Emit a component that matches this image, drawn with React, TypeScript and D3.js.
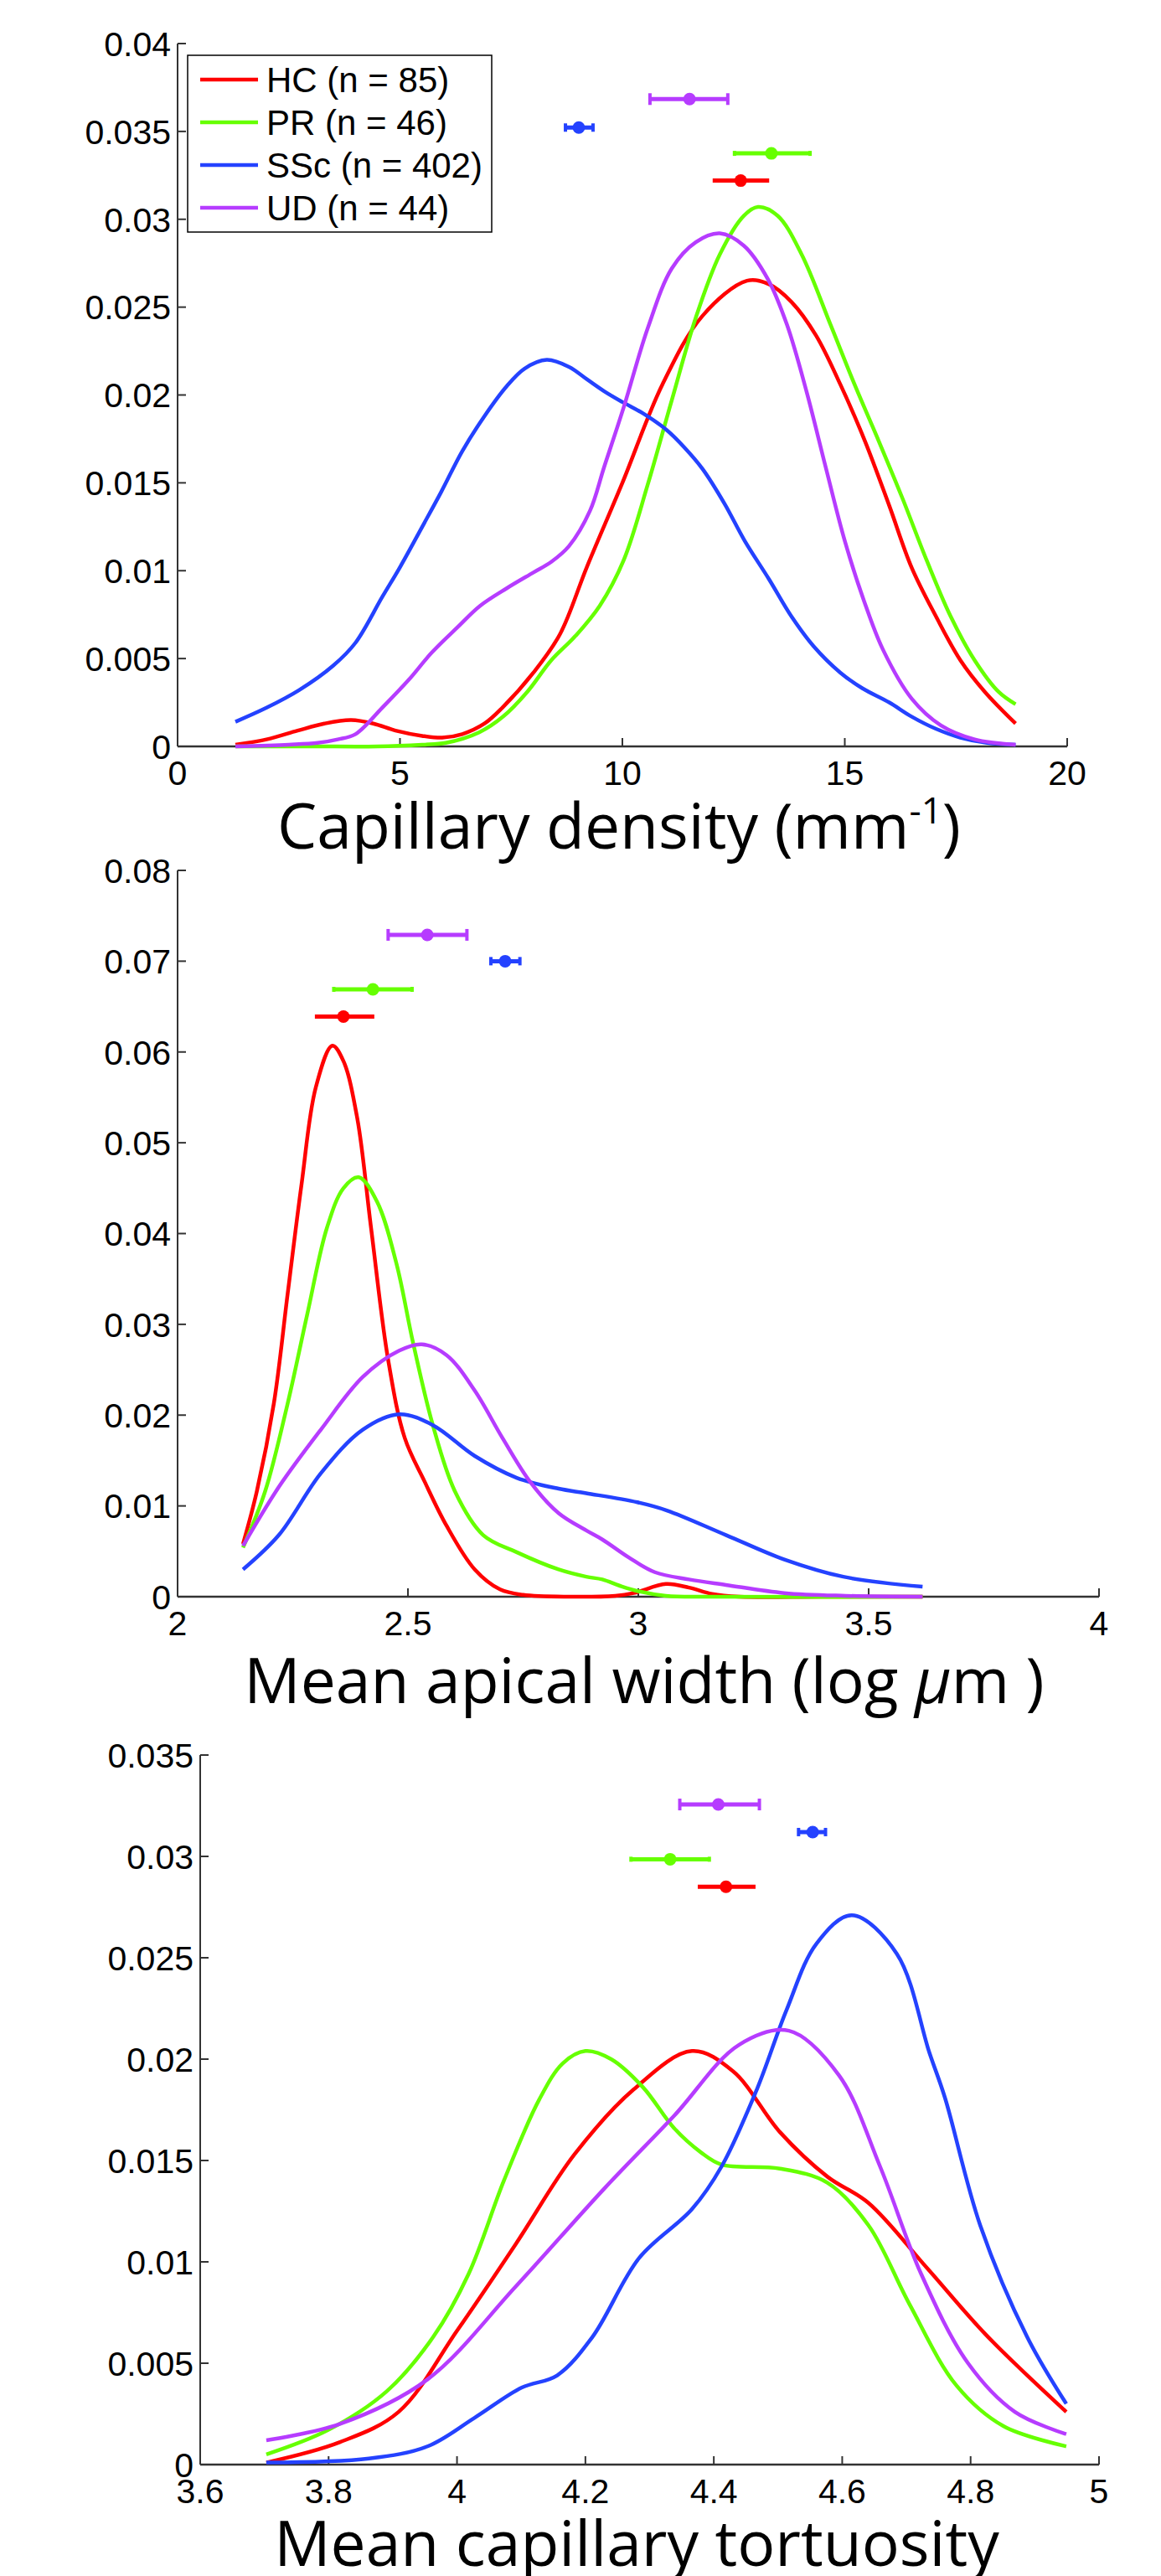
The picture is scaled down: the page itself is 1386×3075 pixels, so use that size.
import React from 'react';
import * as d3 from 'd3';

// groups, in legend order
const groups = ['HC', 'PR', 'SSc', 'UD'];
const groupN = [85, 46, 402, 44];
const colors = ['#ff0000', '#66ff00', '#2442ff', '#b63cff'];
const capHeights = [0, 6, 10, 14];

// panel 1 : capillary density
const densityHC = [[1.3, 0.0001], [2.0, 0.0004], [2.7, 0.0009], [3.3, 0.0013], [3.9, 0.0015], [4.4, 0.0013], [4.9, 0.0009], [5.5, 0.0006], [5.95, 0.0005], [6.4, 0.0007], [6.9, 0.0013], [7.3, 0.0022], [8.0, 0.0042], [8.6, 0.0064], [9.2, 0.0102], [10.0, 0.015], [10.9, 0.0206], [11.8, 0.0245], [12.8, 0.0265], [13.3, 0.0263], [13.8, 0.0253], [14.35, 0.0234], [14.9, 0.0206], [15.45, 0.0174], [16.0, 0.0137], [16.5, 0.0102], [17.05, 0.0074], [17.6, 0.0049], [18.15, 0.0031], [18.84, 0.0013]];
const densityPR = [[1.3, 0], [3.0, 0], [4.5, 0], [5.5, 0.0001], [6.03, 0.0002], [6.78, 0.0008], [7.32, 0.0017], [7.86, 0.0031], [8.4, 0.0049], [8.95, 0.0063], [9.49, 0.008], [10.03, 0.0106], [10.57, 0.0149], [11.11, 0.0197], [11.65, 0.0244], [12.19, 0.028], [12.73, 0.0302], [13.05, 0.0307], [13.49, 0.0302], [14.03, 0.028], [14.68, 0.024], [15.22, 0.0206], [15.76, 0.0174], [16.3, 0.0141], [16.84, 0.0106], [17.38, 0.0074], [17.92, 0.0049], [18.46, 0.0031], [18.84, 0.0024]];
const densitySSc = [[1.3, 0.0014], [2.0, 0.0022], [2.73, 0.0032], [3.5, 0.0046], [4.0, 0.0059], [4.6, 0.0085], [5.0, 0.0102], [5.5, 0.0125], [5.93, 0.0145], [6.4, 0.0168], [6.9, 0.0188], [7.4, 0.0205], [7.8, 0.0215], [8.3, 0.022], [8.8, 0.0216], [9.2, 0.0209], [9.6, 0.0202], [10.0, 0.0196], [10.5, 0.0189], [11.0, 0.018], [11.4, 0.017], [11.8, 0.0158], [12.3, 0.0138], [12.75, 0.0117], [13.3, 0.0095], [13.8, 0.0074], [14.3, 0.0057], [14.9, 0.0042], [15.4, 0.0033], [16.0, 0.0025], [16.5, 0.0017], [17.05, 0.001], [17.6, 0.0005], [18.2, 0.0002], [18.84, 0.0001]];
const densityUD = [[1.3, 0], [2.5, 0.0001], [3.15, 0.0002], [3.6, 0.0004], [4.0, 0.0007], [4.6, 0.0022], [5.2, 0.0038], [5.7, 0.0053], [6.3, 0.0068], [6.8, 0.008], [7.4, 0.009], [8.0, 0.0099], [8.4, 0.0105], [8.8, 0.0114], [9.27, 0.0134], [9.59, 0.0159], [10.03, 0.0193], [10.57, 0.0238], [11.11, 0.0272], [11.65, 0.0287], [12.19, 0.0292], [12.73, 0.0285], [13.27, 0.0266], [13.7, 0.024], [14.14, 0.0202], [14.57, 0.0159], [15.0, 0.0117], [15.43, 0.0083], [15.86, 0.0055], [16.51, 0.0027], [17.16, 0.0012], [17.92, 0.0004], [18.84, 0.0001]];
const densityMean = [12.66, 13.35, 9.02, 11.51];
const densityLo = [12.03, 12.52, 8.72, 10.62];
const densityHi = [13.3, 14.22, 9.34, 12.37];
const densityBarY = [0.0322, 0.03375, 0.03522, 0.03684];
const densityXTicks = [0, 5, 10, 15, 20];
const densityYTicks = [0, 0.005, 0.01, 0.015, 0.02, 0.025, 0.03, 0.035, 0.04];

// panel 2 : mean apical width
const widthHC = [[2.142, 0.0058], [2.172, 0.0116], [2.209, 0.0213], [2.239, 0.0334], [2.269, 0.0454], [2.3, 0.0561], [2.336, 0.0607], [2.36, 0.059], [2.39, 0.0527], [2.42, 0.0406], [2.457, 0.0261], [2.493, 0.0175], [2.536, 0.0127], [2.584, 0.0078], [2.645, 0.003], [2.7, 0.0008], [2.75, 0.0002], [2.85, 0], [2.95, 0.0001], [2.99, 0.0004], [3.06, 0.0014], [3.11, 0.001], [3.16, 0.0003], [3.22, 0], [3.4, 0], [3.617, 0]];
const widthPR = [[2.142, 0.0054], [2.19, 0.0116], [2.239, 0.0213], [2.281, 0.031], [2.324, 0.0406], [2.36, 0.045], [2.393, 0.0462], [2.433, 0.0435], [2.475, 0.0367], [2.511, 0.028], [2.554, 0.0189], [2.602, 0.0116], [2.663, 0.0068], [2.736, 0.0049], [2.827, 0.003], [2.887, 0.0022], [2.922, 0.0019], [2.96, 0.0012], [3.0, 0.0006], [3.06, 0.0001], [3.15, 0], [3.617, 0]];
const widthSSc = [[2.142, 0.003], [2.22, 0.0068], [2.311, 0.0136], [2.402, 0.0184], [2.481, 0.0201], [2.554, 0.0189], [2.645, 0.0155], [2.736, 0.0131], [2.827, 0.0119], [2.887, 0.0114], [2.998, 0.0104], [3.062, 0.0095], [3.19, 0.0068], [3.317, 0.0041], [3.445, 0.0022], [3.617, 0.0011]];
const widthUD = [[2.142, 0.0056], [2.22, 0.0121], [2.311, 0.0184], [2.402, 0.0242], [2.481, 0.0271], [2.53, 0.0278], [2.584, 0.0266], [2.645, 0.0227], [2.705, 0.0175], [2.766, 0.0126], [2.827, 0.0092], [2.887, 0.0073], [2.922, 0.0063], [2.98, 0.0043], [3.036, 0.0027], [3.11, 0.0019], [3.19, 0.0013], [3.317, 0.0004], [3.45, 0.0001], [3.617, 0]];
const widthMean = [2.36, 2.424, 2.711, 2.542];
const widthLo = [2.298, 2.339, 2.68, 2.457];
const widthHi = [2.427, 2.509, 2.743, 2.628];
const widthBarY = [0.0639, 0.0669, 0.07, 0.0729];
const widthXTicks = [2, 2.5, 3, 3.5, 4];
const widthYTicks = [0, 0.01, 0.02, 0.03, 0.04, 0.05, 0.06, 0.07, 0.08];

// panel 3 : mean capillary tortuosity
const tortHC = [[3.703, 0.0001], [3.817, 0.0011], [3.909, 0.0026], [4.0, 0.0066], [4.092, 0.0109], [4.183, 0.0153], [4.275, 0.0185], [4.366, 0.0204], [4.43, 0.0194], [4.503, 0.0164], [4.577, 0.0142], [4.641, 0.0129], [4.732, 0.0097], [4.824, 0.0064], [4.949, 0.0026]];
const tortPR = [[3.703, 0.0005], [3.799, 0.0017], [3.89, 0.0036], [3.963, 0.0063], [4.018, 0.0094], [4.073, 0.014], [4.128, 0.018], [4.165, 0.0198], [4.2, 0.0204], [4.24, 0.02], [4.29, 0.0186], [4.338, 0.0166], [4.38, 0.0154], [4.412, 0.0148], [4.503, 0.0146], [4.577, 0.0139], [4.641, 0.0118], [4.705, 0.0079], [4.778, 0.0039], [4.851, 0.0019], [4.949, 0.0009]];
const tortSSc = [[3.703, 0.0001], [3.863, 0.0003], [3.954, 0.0009], [4.027, 0.0023], [4.101, 0.0038], [4.156, 0.0044], [4.211, 0.0063], [4.284, 0.0102], [4.366, 0.0126], [4.412, 0.0147], [4.467, 0.0185], [4.513, 0.0224], [4.56, 0.0257], [4.615, 0.0271], [4.685, 0.0252], [4.736, 0.0203], [4.76, 0.0181], [4.815, 0.0118], [4.888, 0.0063], [4.949, 0.003]];
const tortUD = [[3.703, 0.0012], [3.817, 0.002], [3.954, 0.0042], [4.092, 0.0088], [4.229, 0.0136], [4.338, 0.0172], [4.439, 0.0207], [4.517, 0.0214], [4.595, 0.0192], [4.659, 0.0147], [4.723, 0.0094], [4.796, 0.005], [4.869, 0.0026], [4.949, 0.0015]];
const tortMean = [4.419, 4.332, 4.554, 4.407];
const tortLo = [4.375, 4.271, 4.532, 4.347];
const tortHi = [4.465, 4.393, 4.574, 4.471];
const tortBarY = [0.0285, 0.02986, 0.0312, 0.03256];
const tortXTicks = [3.6, 3.8, 4, 4.2, 4.4, 4.6, 4.8, 5];
const tortYTicks = [0, 0.005, 0.01, 0.015, 0.02, 0.025, 0.03, 0.035];

const tickFont = '"Liberation Sans", Arial, sans-serif';
const labelFont = '"Open Sans", sans-serif';

const panels = [
  {
    series: [densityHC, densityPR, densitySSc, densityUD],
    mean: densityMean, lo: densityLo, hi: densityHi, barY: densityBarY,
    xTicks: densityXTicks, yTicks: densityYTicks,
    xDomain: [0, 20], xRange: [212, 1274],
    yDomain: [0, 0.04], yRange: [891, 52],
    labelX: 739, labelY: 1013, label: 'density', legend: true,
  },
  {
    series: [widthHC, widthPR, widthSSc, widthUD],
    mean: widthMean, lo: widthLo, hi: widthHi, barY: widthBarY,
    xTicks: widthXTicks, yTicks: widthYTicks,
    xDomain: [2, 4], xRange: [212, 1312],
    yDomain: [0, 0.08], yRange: [1906, 1039],
    labelX: 769, labelY: 2033, label: 'width', legend: false,
  },
  {
    series: [tortHC, tortPR, tortSSc, tortUD],
    mean: tortMean, lo: tortLo, hi: tortHi, barY: tortBarY,
    xTicks: tortXTicks, yTicks: tortYTicks,
    xDomain: [3.6, 5], xRange: [239, 1312],
    yDomain: [0, 0.035], yRange: [2942, 2095],
    labelX: 760, labelY: 3063, label: 'tort', legend: false,
  },
];

const AxisLabel = ({ kind, x, y }) => {
  const common = { x, y, textAnchor: 'middle', fontFamily: labelFont, fontSize: 75, fill: '#000' };
  if (kind === 'density')
    return (
      <text {...common}>
        Capillary density (mm<tspan dy={-30} fontSize={44}>-1</tspan><tspan dy={30}>)</tspan>
      </text>
    );
  if (kind === 'width')
    return (
      <text {...common}>
        Mean apical width (log <tspan fontStyle="italic">μ</tspan>m )
      </text>
    );
  return <text {...common}>Mean capillary tortuosity</text>;
};

const Legend = () => (
  <g>
    <rect x={224} y={66} width={363} height={211} fill="#fff" stroke="#000" strokeWidth={1.5} />
    {groups.map((g, i) => (
      <g key={g} transform={`translate(0,${95 + i * 51})`}>
        <line x1={239} x2={308} stroke={colors[i]} strokeWidth={4.5} />
        <text x={318} dy="0.36em" fontFamily={tickFont} fontSize={42}>
          {`${g} (n = ${groupN[i]})`}
        </text>
      </g>
    ))}
  </g>
);

const Panel = ({ p }) => {
  const x = d3.scaleLinear().domain(p.xDomain).range(p.xRange);
  const y = d3.scaleLinear().domain(p.yDomain).range(p.yRange);
  const line = d3.line().x(d => x(d[0])).y(d => Math.min(y(0), y(d[1]))).curve(d3.curveCatmullRom.alpha(0.5));
  const x0 = x(p.xDomain[0]);
  const y0 = y(0);
  const axisColor = '#333';

  return (
    <g>
      {/* axes */}
      <line x1={x0} x2={x(p.xDomain[1])} y1={y0} y2={y0} stroke={axisColor} strokeWidth={2.5} />
      <line x1={x0} x2={x0} y1={y0} y2={y(p.yDomain[1])} stroke={axisColor} strokeWidth={2} />
      {p.xTicks.map(t => (
        <g key={'x' + t} transform={`translate(${x(t)},${y0})`}>
          <line y2={-10} stroke={axisColor} strokeWidth={2} />
          <text y={46} textAnchor="middle" fontFamily={tickFont} fontSize={41}>{String(t)}</text>
        </g>
      ))}
      {p.yTicks.map(t => (
        <g key={'y' + t} transform={`translate(${x0},${y(t)})`}>
          <line x2={10} stroke={axisColor} strokeWidth={2} />
          <text x={-8} dy="0.36em" textAnchor="end" fontFamily={tickFont} fontSize={41}>{String(t)}</text>
        </g>
      ))}

      {/* density curves */}
      {p.series.map((s, i) => (
        <path key={'c' + i} d={line(s)} fill="none" stroke={colors[i]} strokeWidth={4.5} strokeLinejoin="round" />
      ))}

      {/* mean +/- error bars */}
      {groups.map((g, i) => {
        const by = y(p.barY[i]);
        const ch = capHeights[i];
        return (
          <g key={'e' + g}>
            <line x1={x(p.lo[i])} x2={x(p.hi[i])} y1={by} y2={by} stroke={colors[i]} strokeWidth={5} />
            {ch > 0 && (
              <>
                <line x1={x(p.lo[i])} x2={x(p.lo[i])} y1={by - ch / 2} y2={by + ch / 2} stroke={colors[i]} strokeWidth={4} />
                <line x1={x(p.hi[i])} x2={x(p.hi[i])} y1={by - ch / 2} y2={by + ch / 2} stroke={colors[i]} strokeWidth={4} />
              </>
            )}
            <circle cx={x(p.mean[i])} cy={by} r={7.5} fill={colors[i]} />
          </g>
        );
      })}

      {p.legend && <Legend />}
      <AxisLabel kind={p.label} x={p.labelX} y={p.labelY} />
    </g>
  );
};

export default function App() {
  return (
    <svg width={1386} height={3075} style={{ position: 'absolute', left: 0, top: 0, background: '#fff' }}>
      <rect width={1386} height={3075} fill="#fff" />
      {panels.map((p, i) => (
        <Panel key={i} p={p} />
      ))}
    </svg>
  );
}
